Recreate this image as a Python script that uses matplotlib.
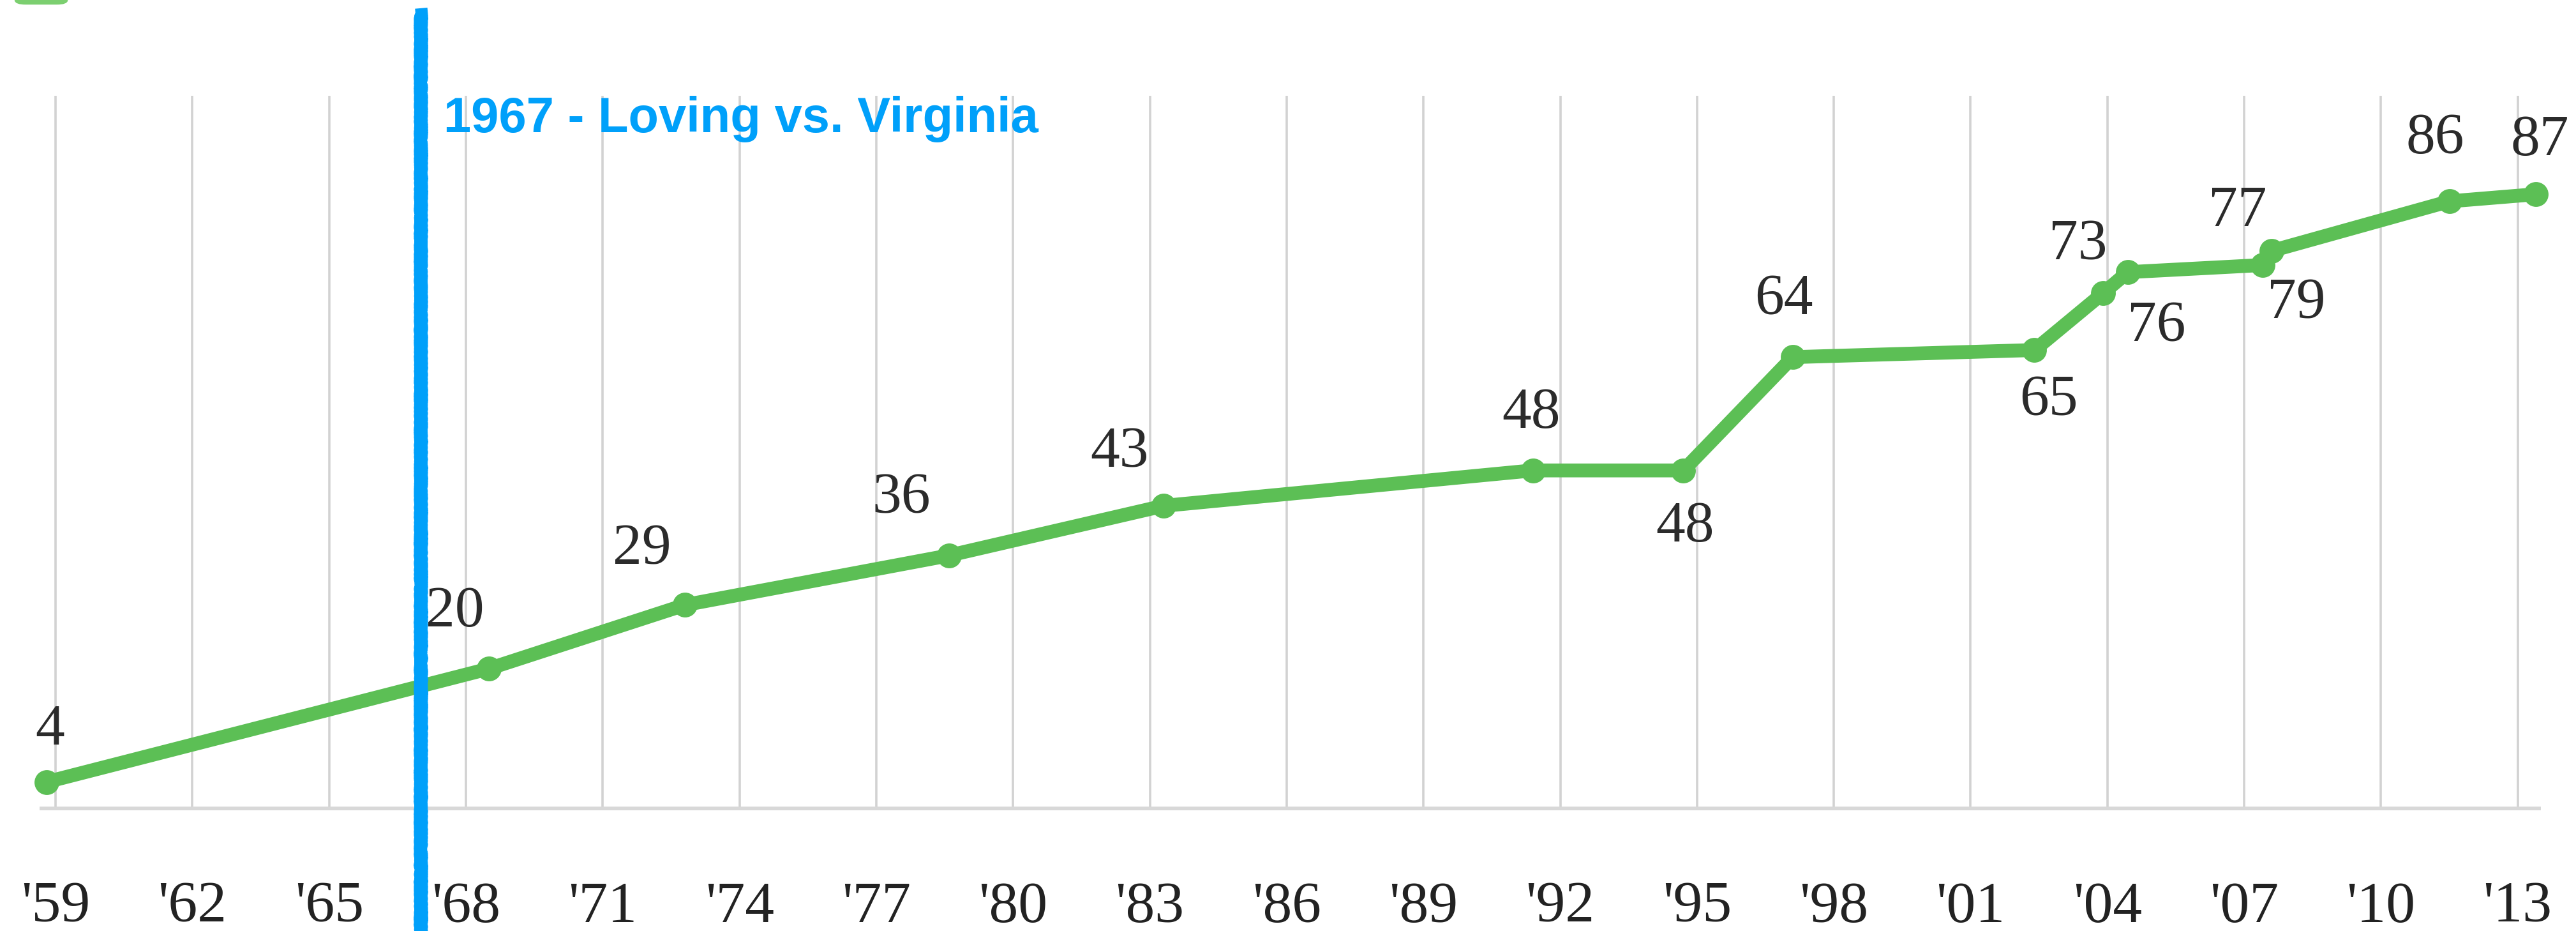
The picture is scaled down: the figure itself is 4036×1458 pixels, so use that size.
import matplotlib.pyplot as plt
from matplotlib.patches import FancyBboxPatch

# Approval of marriages between black and white people (%)
years = [1958.8, 1968.5, 1972.8, 1978.6, 1983.3, 1991.4, 1994.7, 1997.1,
         2002.4, 2003.9, 2004.45, 2007.4, 2007.6, 2011.5, 2013.4]
approve = [4, 20, 29, 36, 43, 48, 48, 64, 65, 73, 76, 77, 79, 86, 87]

tick_years = [1959, 1962, 1965, 1968, 1971, 1974, 1977, 1980, 1983, 1986,
              1989, 1992, 1995, 1998, 2001, 2004, 2007, 2010, 2013]
tick_labels = ["'59", "'62", "'65", "'68", "'71", "'74", "'77", "'80", "'83", "'86",
               "'89", "'92", "'95", "'98", "'01", "'04", "'07", "'10", "'13"]

event_year = 1967
event_text = '1967 - Loving vs. Virginia'

# where each value label sits relative to its point (points)
label_offsets = [(2, 29), (-19, 32), (-24, 31), (-27, 32), (-25, 30), (-1, 32), (1, -32),
                 (-5, 32), (8, -29), (-14, 27), (16, -31), (-14, 30), (14, -30), (-8, 35), (2, 30)]

green = '#5cbf55'
blue = '#00a0fa'

fig = plt.figure(figsize=(20.18, 7.29), dpi=200)
ax = fig.add_axes([0.0154, 0.1296, 0.9710, 0.7675])
ax.set_xlim(1958.65, 2013.51)
ax.set_ylim(0, 100.9)

ax.set_xticks(tick_years, tick_labels)
ax.set_yticks([])
ax.tick_params(axis='x', length=0, pad=40, labelsize=33, labelcolor='#222222')
for lab in ax.get_xticklabels():
    lab.set_family('Liberation Serif')
ax.grid(axis='x', color='#d2d2d2', lw=1.3)
ax.set_axisbelow(True)
for s in ax.spines.values():
    s.set_visible(False)
ax.axhline(0, color='#d8d8d8', lw=4.5, solid_capstyle='round', zorder=1)

ax.plot(years, approve, color=green, lw=7.8, marker='o', ms=13, zorder=3,
        clip_on=False, solid_joinstyle='round')

for x, v, (dx, dy) in zip(years, approve, label_offsets):
    ax.annotate(str(v), (x, v), xytext=(dx, dy), textcoords='offset points',
                ha='center', va='center', fontsize=33, family='Liberation Serif',
                color='#2b2b2b', zorder=5)

# hand drawn marker line
line = ax.axvline(event_year, ymin=-0.2, ymax=1.114, color=blue, lw=7,
                  clip_on=False, zorder=4)
line.set_sketch_params(scale=1.5, length=5, randomness=3)

ax.annotate(event_text, xy=(event_year, 0.949), xycoords=('data', 'axes fraction'),
            xytext=(13, 0), textcoords='offset points', ha='left', va='baseline',
            fontsize=28, fontweight='bold', family='Liberation Sans', color=blue)

# legend swatch cut off at the top
fig.patches.append(FancyBboxPatch((0.006, 0.996), 0.02, 0.02,
                                  boxstyle='round,pad=0,rounding_size=0.004',
                                  transform=fig.transFigure, color='#7ccf70'))

fig.savefig('out.png', dpi=200)
